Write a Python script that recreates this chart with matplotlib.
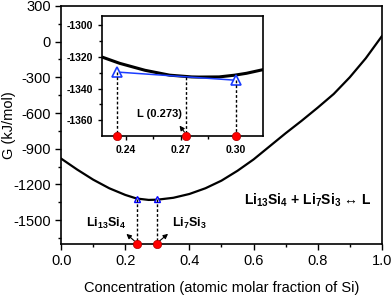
import matplotlib
matplotlib.use("Agg")
import matplotlib.pyplot as plt
import numpy as np

plt.rcParams['font.family'] = ['Liberation Sans', 'DejaVu Sans']
plt.rcParams['mathtext.fontset'] = 'custom'
plt.rcParams['mathtext.rm'] = 'Liberation Sans'
plt.rcParams['mathtext.bf'] = 'Liberation Sans:bold'
plt.rcParams['axes.unicode_minus'] = False

# main free-energy curve
conc = [0.00, 0.05, 0.10, 0.15, 0.20, 0.235, 0.273, 0.30, 0.35, 0.40, 0.45,
        0.50, 0.55, 0.60, 0.65, 0.70, 0.75, 0.80, 0.85, 0.90, 0.95, 1.00]
g_main = [-983, -1075, -1160, -1232, -1288, -1318, -1330, -1328, -1312, -1280, -1232,
          -1168, -1085, -990, -880, -770, -665, -555, -440, -300, -140, 45]

# phases
x_li13 = 0.235
x_li7 = 0.30
x_liq = 0.273
g_tri_main = [-1322, -1322]

# inset curve
conc_in = [0.227, 0.2367, 0.2505, 0.264, 0.276, 0.28, 0.291, 0.2995, 0.306, 0.315]
g_in = [-1320, -1324, -1328.4, -1331.5, -1332.6, -1332.7, -1332.6, -1331.5, -1330.3, -1328.0]
g_tangent = [-1329.5, -1334.7]
g_liq = -1332.6

fig = plt.figure(figsize=(3.92, 2.95), dpi=100)
ax = fig.add_axes([0.156, 0.173, 0.818, 0.807])
ax.plot(conc, g_main, color='black', lw=1.6)
ax.plot([x_li13, x_li7], g_tri_main, ls='none', marker='^', ms=5, mfc='white', mec='blue', mew=1)
for xx, gg in zip([x_li13, x_li7], g_tri_main):
    ax.plot([xx, xx], [gg, -1700], color='black', ls=(0, (2, 1.5)), lw=1)
ax.plot([x_li13, x_li7], [-1700, -1700], ls='none', marker='o', ms=6, mfc='red', mec='#b00000',
        mew=0.5, clip_on=False, zorder=5)
ax.set_xlim(0, 1)
ax.set_ylim(-1700, 300)
ax.set_xticks(np.arange(0, 1.01, 0.2))
ax.set_xticks(np.arange(0, 1.01, 0.1), minor=True)
ax.set_yticks(np.arange(-1500, 301, 300))
ax.set_yticks(np.arange(-1650, 301, 150), minor=True)
ax.tick_params(labelsize=10.5, length=4, width=1)
ax.tick_params(which='minor', length=2, width=1)
for s in ax.spines.values():
    s.set_linewidth(1.2)
ax.set_xlabel('Concentration (atomic molar fraction of Si)', fontsize=10.5, labelpad=9)
ax.set_ylabel('G (kJ/mol)', fontsize=10.5)
ax.yaxis.set_label_coords(-0.142, 0.5)

ax.text(0.14, -1525, r'Li$_{\mathbf{13}}$Si$_{\mathbf{4}}$', fontsize=9, fontweight='bold', ha='center', va='center')
ax.text(0.40, -1525, r'Li$_{\mathbf{7}}$Si$_{\mathbf{3}}$', fontsize=9, fontweight='bold', ha='center', va='center')
ax.annotate('', xy=(0.197, -1600), xytext=(x_li13, -1690),
            arrowprops=dict(arrowstyle='-|>', color='black', lw=0.8, mutation_scale=7))
ax.annotate('', xy=(0.34, -1600), xytext=(x_li7, -1690),
            arrowprops=dict(arrowstyle='-|>', color='black', lw=0.8, mutation_scale=7))
ax.text(0.77, -1333, r'Li$_{\mathbf{13}}$Si$_{\mathbf{4}}$ + Li$_{\mathbf{7}}$Si$_{\mathbf{3}}$ ↔ L',
        fontsize=10, fontweight='bold', ha='center', va='center')

# inset
axi = fig.add_axes([0.260, 0.539, 0.411, 0.407])
axi.plot(conc_in, g_in, color='black', lw=2.2)
axi.plot([x_li13, x_li7], g_tangent, color='#1a3cff', lw=1.1, marker='^', ms=7,
         mfc='white', mec='#1a3cff', mew=1.2)
for xx, gg in zip([x_li13, x_li7, x_liq], g_tangent + [g_liq]):
    axi.plot([xx, xx], [gg, -1370], color='black', ls=(0, (2, 1.5)), lw=1)
axi.plot([x_li13, x_liq, x_li7], [-1370, -1370, -1370], ls='none', marker='o', ms=6,
         mfc='red', mec='#b00000', mew=0.5, clip_on=False, zorder=5)
axi.set_xlim(0.227, 0.315)
axi.set_ylim(-1370, -1294)
axi.set_xticks([0.24, 0.27, 0.30])
axi.set_xticklabels(['0.24', '0.27', '0.30'])
axi.set_xticks([0.255, 0.285], minor=True)
axi.set_yticks([-1360, -1340, -1320, -1300])
axi.set_yticks([-1350, -1330, -1310], minor=True)
axi.tick_params(labelsize=7.5, length=3, width=1)
axi.tick_params(which='minor', length=2, width=1)
for lab in axi.get_xticklabels() + axi.get_yticklabels():
    lab.set_fontweight('bold')
for s in axi.spines.values():
    s.set_linewidth(1.2)
axi.text(0.2585, -1356, 'L (0.273)', fontsize=8, fontweight='bold', ha='center', va='center')
axi.annotate('', xy=(0.2685, -1362), xytext=(x_liq, -1369),
             arrowprops=dict(arrowstyle='-|>', color='black', lw=0.8, mutation_scale=7))

fig.savefig('out.png', dpi=100)
